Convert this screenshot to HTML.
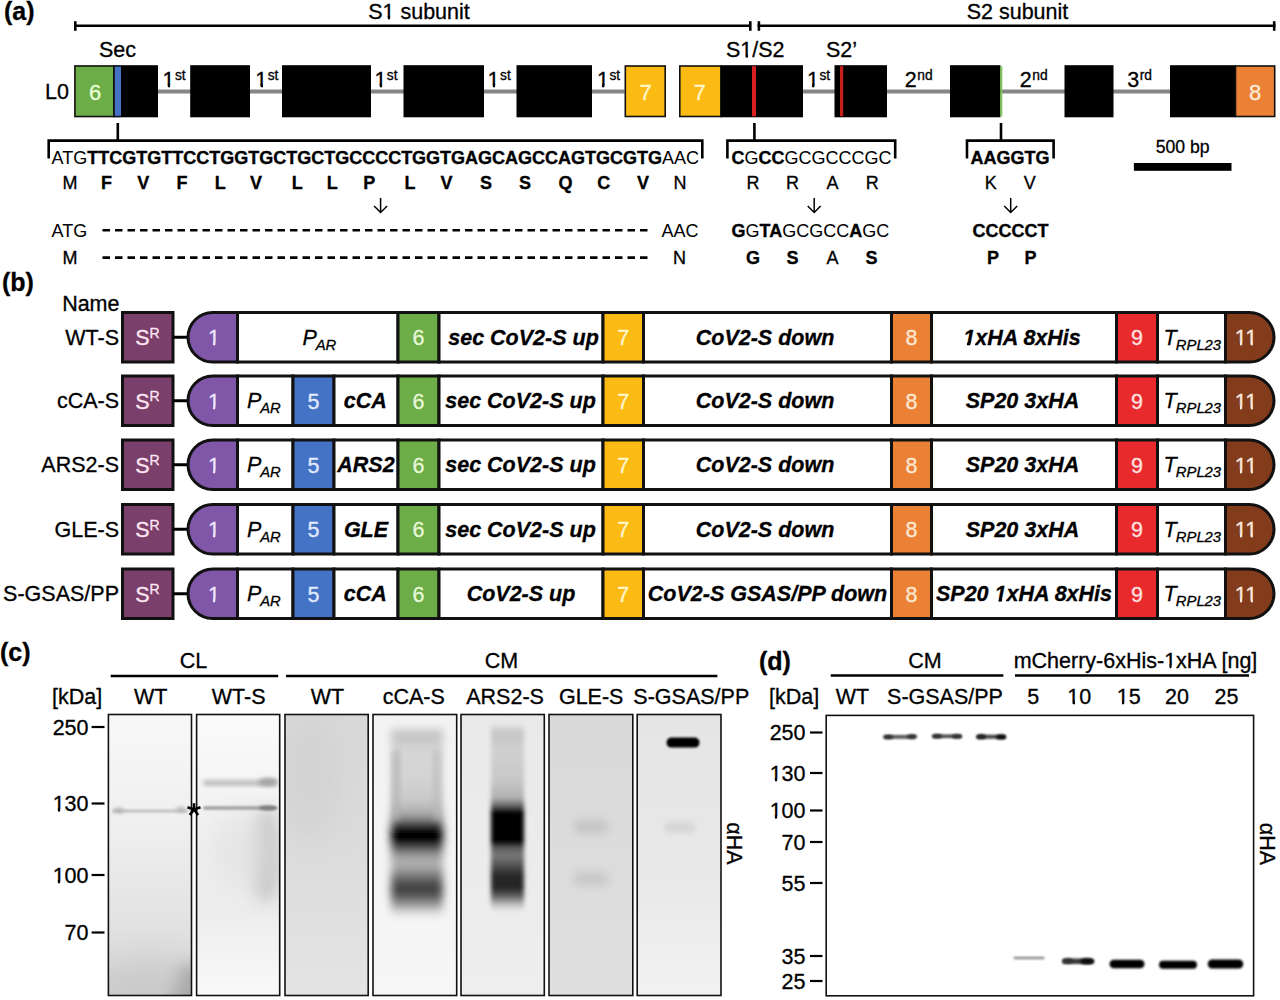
<!DOCTYPE html>
<html><head><meta charset="utf-8"><style>
html,body{margin:0;padding:0;background:#fff;width:1280px;height:1000px;overflow:hidden}
svg{display:block}
text{font-family:"Liberation Sans", sans-serif;stroke-width:0.3px}
</style></head><body>
<svg width="1280" height="1000" viewBox="0 0 1280 1000">
<defs>
<filter id="b1" x="-50%" y="-50%" width="200%" height="200%"><feGaussianBlur stdDeviation="1"/></filter>
<filter id="b2" x="-50%" y="-50%" width="200%" height="200%"><feGaussianBlur stdDeviation="2"/></filter>
<filter id="b3" x="-50%" y="-50%" width="200%" height="200%"><feGaussianBlur stdDeviation="3"/></filter>
<filter id="b4" x="-50%" y="-50%" width="200%" height="200%"><feGaussianBlur stdDeviation="4"/></filter>
<filter id="b5" x="-50%" y="-50%" width="200%" height="200%"><feGaussianBlur stdDeviation="5"/></filter>
<filter id="b8" x="-50%" y="-50%" width="200%" height="200%"><feGaussianBlur stdDeviation="8"/></filter>
<filter id="b12" x="-80%" y="-80%" width="260%" height="260%"><feGaussianBlur stdDeviation="12"/></filter>
<linearGradient id="g0" x1="0" y1="0" x2="0" y2="1"><stop offset="0" stop-color="#f8f8f8"/><stop offset="0.4" stop-color="#efefef"/><stop offset="0.75" stop-color="#e2e2e2"/><stop offset="1" stop-color="#d0d0d0"/></linearGradient><linearGradient id="g1" x1="0" y1="0" x2="0" y2="1"><stop offset="0" stop-color="#fbfbfb"/><stop offset="0.4" stop-color="#f1f1f1"/><stop offset="0.7" stop-color="#ededed"/><stop offset="1" stop-color="#f9f9f9"/></linearGradient><linearGradient id="g2" x1="0" y1="0" x2="0" y2="1"><stop offset="0" stop-color="#d8d8d8"/><stop offset="0.5" stop-color="#dcdcdc"/><stop offset="1" stop-color="#e4e4e4"/></linearGradient><linearGradient id="g3" x1="0" y1="0" x2="0" y2="1"><stop offset="0" stop-color="#f3f3f3"/><stop offset="1" stop-color="#f6f6f6"/></linearGradient><linearGradient id="g4" x1="0" y1="0" x2="0" y2="1"><stop offset="0" stop-color="#e9e9e9"/><stop offset="1" stop-color="#eeeeee"/></linearGradient><linearGradient id="g5" x1="0" y1="0" x2="0" y2="1"><stop offset="0" stop-color="#d9d9d9"/><stop offset="1" stop-color="#dfdfdf"/></linearGradient><linearGradient id="g6" x1="0" y1="0" x2="0" y2="1"><stop offset="0" stop-color="#e5e5e5"/><stop offset="0.6" stop-color="#e9e9e9"/><stop offset="1" stop-color="#f2f2f2"/></linearGradient><linearGradient id="p3" gradientUnits="userSpaceOnUse" x1="0" y1="726" x2="0" y2="918"><stop offset="0.0000" stop-color="#c4c4c4" stop-opacity="0"/><stop offset="0.0365" stop-color="#c4c4c4" stop-opacity="1"/><stop offset="0.0625" stop-color="#c0c0c0" stop-opacity="1"/><stop offset="0.1042" stop-color="#d4d4d4" stop-opacity="1"/><stop offset="0.2292" stop-color="#d6d6d6" stop-opacity="1"/><stop offset="0.3854" stop-color="#cacaca" stop-opacity="1"/><stop offset="0.4635" stop-color="#a8a8a8" stop-opacity="1"/><stop offset="0.5000" stop-color="#606060" stop-opacity="1"/><stop offset="0.5312" stop-color="#000" stop-opacity="1"/><stop offset="0.6094" stop-color="#000" stop-opacity="1"/><stop offset="0.6458" stop-color="#707070" stop-opacity="1"/><stop offset="0.6979" stop-color="#b4b4b4" stop-opacity="1"/><stop offset="0.7396" stop-color="#a8a8a8" stop-opacity="1"/><stop offset="0.7917" stop-color="#686868" stop-opacity="1"/><stop offset="0.8333" stop-color="#404040" stop-opacity="1"/><stop offset="0.8646" stop-color="#404040" stop-opacity="1"/><stop offset="0.9062" stop-color="#707070" stop-opacity="1"/><stop offset="0.9479" stop-color="#b8b8b8" stop-opacity="1"/><stop offset="1.0000" stop-color="#dcdcdc" stop-opacity="0"/></linearGradient><linearGradient id="p4" gradientUnits="userSpaceOnUse" x1="0" y1="724" x2="0" y2="912"><stop offset="0.0000" stop-color="#c8c8c8" stop-opacity="0"/><stop offset="0.0372" stop-color="#c8c8c8" stop-opacity="1"/><stop offset="0.0745" stop-color="#c8c8c8" stop-opacity="1"/><stop offset="0.1383" stop-color="#d0d0d0" stop-opacity="1"/><stop offset="0.2979" stop-color="#c8c8c8" stop-opacity="1"/><stop offset="0.3936" stop-color="#b0b0b0" stop-opacity="1"/><stop offset="0.4362" stop-color="#606060" stop-opacity="1"/><stop offset="0.4681" stop-color="#000" stop-opacity="1"/><stop offset="0.6277" stop-color="#000" stop-opacity="1"/><stop offset="0.6596" stop-color="#606060" stop-opacity="1"/><stop offset="0.7021" stop-color="#787878" stop-opacity="1"/><stop offset="0.7553" stop-color="#505050" stop-opacity="1"/><stop offset="0.8085" stop-color="#262626" stop-opacity="1"/><stop offset="0.8723" stop-color="#262626" stop-opacity="1"/><stop offset="0.9149" stop-color="#606060" stop-opacity="1"/><stop offset="0.9574" stop-color="#b8b8b8" stop-opacity="1"/><stop offset="1.0000" stop-color="#d0d0d0" stop-opacity="0"/></linearGradient></defs>
<text x="4" y="19.6" font-size="25" font-weight="bold" text-anchor="start" fill="#000" stroke="#000" >(a)</text>
<line x1="74" y1="25.7" x2="751" y2="25.7" stroke="#000" stroke-width="2.5" />
<line x1="75.3" y1="21.2" x2="75.3" y2="30.8" stroke="#000" stroke-width="2.6" />
<line x1="750.3" y1="21.2" x2="750.3" y2="30.8" stroke="#000" stroke-width="2.6" />
<line x1="757.6" y1="25.7" x2="1275.5" y2="25.7" stroke="#000" stroke-width="2.5" />
<line x1="758.9" y1="21.2" x2="758.9" y2="30.8" stroke="#000" stroke-width="2.6" />
<line x1="1274.2" y1="21.2" x2="1274.2" y2="30.8" stroke="#000" stroke-width="2.6" />
<text x="419" y="18.8" font-size="21.5" text-anchor="middle" fill="#000" stroke="#000" >S1 subunit</text>
<text x="1017.5" y="18.8" font-size="21.5" text-anchor="middle" fill="#000" stroke="#000" >S2 subunit</text>
<text x="99" y="57.3" font-size="21.5" text-anchor="start" fill="#000" stroke="#000" >Sec</text>
<text x="726" y="57.3" font-size="21.5" text-anchor="start" fill="#000" stroke="#000" >S1/S2</text>
<text x="826" y="57.3" font-size="21.5" text-anchor="start" fill="#000" stroke="#000" >S2’</text>
<text x="45" y="99" font-size="21.5" text-anchor="start" fill="#000" stroke="#000" >L0</text>
<line x1="158" y1="91.6" x2="624.5" y2="91.6" stroke="#858585" stroke-width="4" />
<line x1="803" y1="91.6" x2="1170" y2="91.6" stroke="#858585" stroke-width="4" />
<rect x="74.9" y="65.95" width="39.0" height="50.599999999999994" fill="#6cad47" stroke="#111" stroke-width="1.6"/>
<rect x="114.5" y="65.2" width="6.5" height="52.099999999999994" fill="#4472c4"/>
<rect x="113.2" y="65.2" width="1.5999999999999943" height="52.099999999999994" fill="#111"/>
<rect x="114.5" y="65.2" width="6.5" height="1.5" fill="#111"/>
<rect x="114.5" y="115.8" width="6.5" height="1.5" fill="#111"/>
<rect x="121" y="65.2" width="37" height="52.099999999999994" fill="#000"/>
<text x="95" y="99.7" font-size="22" text-anchor="middle" fill="#eaffd6" stroke="#eaffd6" >6</text>
<rect x="190.2" y="65.2" width="59.80000000000001" height="52.099999999999994" fill="#000"/>
<rect x="282" y="65.2" width="89" height="52.099999999999994" fill="#000"/>
<rect x="403.5" y="65.2" width="80.5" height="52.099999999999994" fill="#000"/>
<rect x="516.5" y="65.2" width="75.5" height="52.099999999999994" fill="#000"/>
<rect x="625.3" y="66.0" width="39.90000000000009" height="50.5" fill="#fbbb14" stroke="#111" stroke-width="1.6"/>
<text x="645.5" y="99.7" font-size="22" text-anchor="middle" fill="#fff6cc" stroke="#fff6cc" >7</text>
<rect x="679.8" y="66.0" width="41.200000000000045" height="50.5" fill="#fbbb14" stroke="#111" stroke-width="1.6"/>
<text x="699.5" y="99.7" font-size="22" text-anchor="middle" fill="#fff6cc" stroke="#fff6cc" >7</text>
<rect x="720.5" y="65.2" width="82.5" height="52.099999999999994" fill="#000"/>
<rect x="752" y="66.2" width="4" height="50.099999999999994" fill="#d81e1e"/>
<rect x="834.5" y="65.2" width="52.5" height="52.099999999999994" fill="#000"/>
<rect x="840" y="66.2" width="3.2000000000000455" height="50.099999999999994" fill="#c81e1e"/>
<rect x="950" y="65.2" width="50.5" height="52.099999999999994" fill="#000"/>
<rect x="1000.3" y="66.2" width="2.0" height="50.099999999999994" fill="#7ec45a"/>
<rect x="1064.5" y="65.2" width="49.0" height="52.099999999999994" fill="#000"/>
<rect x="1170" y="65.2" width="66" height="52.099999999999994" fill="#000"/>
<rect x="1235.5" y="66.0" width="39.200000000000045" height="50.5" fill="#ea8135" stroke="#111" stroke-width="1.6"/>
<text x="1255" y="99.7" font-size="22" text-anchor="middle" fill="#fdebd6" stroke="#fdebd6" >8</text>
<text x="162.5" y="86.6" font-size="21.5" stroke="#000">1<tspan font-size="13.8" dy="-6.8" dx="0.5">st</tspan></text>
<text x="255.2" y="86.6" font-size="21.5" stroke="#000">1<tspan font-size="13.8" dy="-6.8" dx="0.5">st</tspan></text>
<text x="374.4" y="86.6" font-size="21.5" stroke="#000">1<tspan font-size="13.8" dy="-6.8" dx="0.5">st</tspan></text>
<text x="487.6" y="86.6" font-size="21.5" stroke="#000">1<tspan font-size="13.8" dy="-6.8" dx="0.5">st</tspan></text>
<text x="597" y="86.6" font-size="21.5" stroke="#000">1<tspan font-size="13.8" dy="-6.8" dx="0.5">st</tspan></text>
<text x="807" y="86.6" font-size="21.5" stroke="#000">1<tspan font-size="13.8" dy="-6.8" dx="0.5">st</tspan></text>
<text x="904.8" y="86.6" font-size="21.5" stroke="#000">2<tspan font-size="13.8" dy="-6.8" dx="0.5">nd</tspan></text>
<text x="1019.8" y="86.6" font-size="21.5" stroke="#000">2<tspan font-size="13.8" dy="-6.8" dx="0.5">nd</tspan></text>
<text x="1127.2" y="86.6" font-size="21.5" stroke="#000">3<tspan font-size="13.8" dy="-6.8" dx="0.5">rd</tspan></text>
<path d="M48.7 158.5 V140.6 H702.3 V158.5" fill="none" stroke="#000" stroke-width="2.6" stroke-linejoin="miter"/>
<line x1="117.8" y1="123" x2="117.8" y2="140.6" stroke="#000" stroke-width="2.6" />
<path d="M727.4 158.5 V140.6 H895.2 V158.5" fill="none" stroke="#000" stroke-width="2.6" stroke-linejoin="miter"/>
<line x1="754.4" y1="123" x2="754.4" y2="140.6" stroke="#000" stroke-width="2.6" />
<path d="M967 158.5 V140.6 H1053.6 V158.5" fill="none" stroke="#000" stroke-width="2.6" stroke-linejoin="miter"/>
<line x1="1001" y1="123" x2="1001" y2="140.6" stroke="#000" stroke-width="2.6" />
<text x="51.5" y="163.6" font-size="18" stroke="#000"><tspan font-weight="normal" stroke-width="0">ATG</tspan><tspan font-weight="bold" stroke-width="0.35">TTCGTGTTCCTGGTGCTGCTGCCCCTGGTGAGCAGCCAGTGCGTG</tspan><tspan font-weight="normal" stroke-width="0">AAC</tspan></text>
<text x="69.9" y="188.8" font-size="18" text-anchor="middle" fill="#000" stroke="#000"  stroke-width="0">M</text>
<text x="106.6" y="188.8" font-size="18" font-weight="bold" text-anchor="middle" fill="#000" stroke="#000" >F</text>
<text x="143.3" y="188.8" font-size="18" font-weight="bold" text-anchor="middle" fill="#000" stroke="#000" >V</text>
<text x="182" y="188.8" font-size="18" font-weight="bold" text-anchor="middle" fill="#000" stroke="#000" >F</text>
<text x="220.3" y="188.8" font-size="18" font-weight="bold" text-anchor="middle" fill="#000" stroke="#000" >L</text>
<text x="256" y="188.8" font-size="18" font-weight="bold" text-anchor="middle" fill="#000" stroke="#000" >V</text>
<text x="297.3" y="188.8" font-size="18" font-weight="bold" text-anchor="middle" fill="#000" stroke="#000" >L</text>
<text x="332.3" y="188.8" font-size="18" font-weight="bold" text-anchor="middle" fill="#000" stroke="#000" >L</text>
<text x="369.3" y="188.8" font-size="18" font-weight="bold" text-anchor="middle" fill="#000" stroke="#000" >P</text>
<text x="410" y="188.8" font-size="18" font-weight="bold" text-anchor="middle" fill="#000" stroke="#000" >L</text>
<text x="446.4" y="188.8" font-size="18" font-weight="bold" text-anchor="middle" fill="#000" stroke="#000" >V</text>
<text x="486" y="188.8" font-size="18" font-weight="bold" text-anchor="middle" fill="#000" stroke="#000" >S</text>
<text x="525" y="188.8" font-size="18" font-weight="bold" text-anchor="middle" fill="#000" stroke="#000" >S</text>
<text x="565.6" y="188.8" font-size="18" font-weight="bold" text-anchor="middle" fill="#000" stroke="#000" >Q</text>
<text x="603.7" y="188.8" font-size="18" font-weight="bold" text-anchor="middle" fill="#000" stroke="#000" >C</text>
<text x="643" y="188.8" font-size="18" font-weight="bold" text-anchor="middle" fill="#000" stroke="#000" >V</text>
<text x="680" y="188.8" font-size="18" text-anchor="middle" fill="#000" stroke="#000"  stroke-width="0">N</text>
<text x="51.5" y="237" font-size="18" stroke="#000"><tspan font-weight="normal" stroke-width="0">ATG</tspan></text>
<text x="661.5" y="237" font-size="18" stroke="#000"><tspan font-weight="normal" stroke-width="0">AAC</tspan></text>
<text x="70" y="264" font-size="18" text-anchor="middle" fill="#000" stroke="#000"  stroke-width="0">M</text>
<text x="679.5" y="264" font-size="18" text-anchor="middle" fill="#000" stroke="#000"  stroke-width="0">N</text>
<line x1="102.5" y1="230.3" x2="650" y2="230.3" stroke="#000" stroke-width="2.6" stroke-dasharray="7.5 5"/>
<line x1="102.5" y1="257.6" x2="650" y2="257.6" stroke="#000" stroke-width="2.6" stroke-dasharray="7.5 5"/>
<path d="M380.6 198 V212.5 M374.1 206.0 L380.6 212.5 L387.1 206.0" fill="none" stroke="#000" stroke-width="1.5"/>
<path d="M814.2 198 V212.5 M807.7 206.0 L814.2 212.5 L820.7 206.0" fill="none" stroke="#000" stroke-width="1.5"/>
<path d="M1010.7 198 V212.5 M1004.2 206.0 L1010.7 212.5 L1017.2 206.0" fill="none" stroke="#000" stroke-width="1.5"/>
<text x="731.5" y="163.6" font-size="18" stroke="#000"><tspan font-weight="bold" stroke-width="0.35">C</tspan><tspan font-weight="normal" stroke-width="0">G</tspan><tspan font-weight="bold" stroke-width="0.35">CC</tspan><tspan font-weight="normal" stroke-width="0">GCGCCCGC</tspan></text>
<text x="753" y="188.8" font-size="18" text-anchor="middle" fill="#000" stroke="#000"  stroke-width="0">R</text>
<text x="792.5" y="188.8" font-size="18" text-anchor="middle" fill="#000" stroke="#000"  stroke-width="0">R</text>
<text x="832.5" y="188.8" font-size="18" text-anchor="middle" fill="#000" stroke="#000"  stroke-width="0">A</text>
<text x="872.2" y="188.8" font-size="18" text-anchor="middle" fill="#000" stroke="#000"  stroke-width="0">R</text>
<text x="731.5" y="237" font-size="18" stroke="#000"><tspan font-weight="bold" stroke-width="0.35">G</tspan><tspan font-weight="normal" stroke-width="0">G</tspan><tspan font-weight="bold" stroke-width="0.35">TA</tspan><tspan font-weight="normal" stroke-width="0">GCGCC</tspan><tspan font-weight="bold" stroke-width="0.35">A</tspan><tspan font-weight="normal" stroke-width="0">GC</tspan></text>
<text x="753" y="264" font-size="18" font-weight="bold" text-anchor="middle" fill="#000" stroke="#000" >G</text>
<text x="792.5" y="264" font-size="18" font-weight="bold" text-anchor="middle" fill="#000" stroke="#000" >S</text>
<text x="832.5" y="264" font-size="18" text-anchor="middle" fill="#000" stroke="#000"  stroke-width="0">A</text>
<text x="871.5" y="264" font-size="18" font-weight="bold" text-anchor="middle" fill="#000" stroke="#000" >S</text>
<text x="970.5" y="163.6" font-size="18" stroke="#000"><tspan font-weight="bold" stroke-width="0.35">AAGGTG</tspan></text>
<text x="990.7" y="188.8" font-size="18" text-anchor="middle" fill="#000" stroke="#000"  stroke-width="0">K</text>
<text x="1029.8" y="188.8" font-size="18" text-anchor="middle" fill="#000" stroke="#000"  stroke-width="0">V</text>
<text x="972.5" y="237" font-size="18" stroke="#000"><tspan font-weight="bold" stroke-width="0.35">CCCCCT</tspan></text>
<text x="993" y="264" font-size="18" font-weight="bold" text-anchor="middle" fill="#000" stroke="#000" >P</text>
<text x="1030.5" y="264" font-size="18" font-weight="bold" text-anchor="middle" fill="#000" stroke="#000" >P</text>
<text x="1182.7" y="152.7" font-size="17.6" text-anchor="middle" fill="#000" stroke="#000" >500 bp</text>
<rect x="1133.9" y="163" width="97.59999999999991" height="7.800000000000011" fill="#000"/>
<text x="2" y="290.8" font-size="25" font-weight="bold" text-anchor="start" fill="#000" stroke="#000" >(b)</text>
<text x="119.5" y="311" font-size="21.5" text-anchor="end" fill="#000" stroke="#000" >Name</text>
<text x="119" y="344.75" font-size="21.5" text-anchor="end" fill="#000" stroke="#000" >WT-S</text>
<rect x="122.5" y="312.5" width="50.5" height="49.5" fill="#7b3f6c" stroke="#111" stroke-width="3"/>
<text x="147.5" y="345.05" font-size="21.5" fill="#fce6f2" stroke="#fce6f2" text-anchor="middle">S<tspan font-size="14" dy="-7.5">R</tspan></text>
<line x1="173" y1="337.25" x2="188" y2="337.25" stroke="#000" stroke-width="3" />
<path d="M237.5 312.5 H212.75 A24.75 24.75 0 0 0 212.75 362.0 H237.5 Z" fill="#7f56a8" stroke="#111" stroke-width="3"/>
<path d="M1225.5 312.5 H1249.25 A24.75 24.75 0 0 1 1249.25 362.0 H1225.5 Z" fill="#833c1b" stroke="#111" stroke-width="3"/>
<text x="214" y="345.05" font-size="21.5" text-anchor="middle" fill="#efe6ff" stroke="#efe6ff" stroke-width="0.1">1</text>
<text x="1246" y="345.05" font-size="21.5" text-anchor="middle" fill="#fbe8dc" stroke="#fbe8dc" stroke-width="0.1">11</text>
<rect x="237.5" y="312.5" width="160.5" height="49.5" fill="#fff" stroke="#111" stroke-width="3"/>
<rect x="398" y="312.5" width="41" height="49.5" fill="#6cad47" stroke="#111" stroke-width="3"/>
<rect x="439" y="312.5" width="164" height="49.5" fill="#fff" stroke="#111" stroke-width="3"/>
<rect x="603" y="312.5" width="40.5" height="49.5" fill="#fbbb14" stroke="#111" stroke-width="3"/>
<rect x="643.5" y="312.5" width="248.0" height="49.5" fill="#fff" stroke="#111" stroke-width="3"/>
<rect x="891.5" y="312.5" width="40.0" height="49.5" fill="#ea8135" stroke="#111" stroke-width="3"/>
<rect x="931.5" y="312.5" width="185.0" height="49.5" fill="#fff" stroke="#111" stroke-width="3"/>
<rect x="1116.5" y="312.5" width="41.0" height="49.5" fill="#e92a2c" stroke="#111" stroke-width="3"/>
<rect x="1157.5" y="312.5" width="68.0" height="49.5" fill="#fff" stroke="#111" stroke-width="3"/>
<text x="302.5" y="344.75" font-size="21.5" font-style="italic" stroke="#000">P<tspan font-size="14.8" dy="4.8" dx="-1.2">AR</tspan></text>
<text x="418.5" y="345.05" font-size="21.5" text-anchor="middle" fill="#e6f8d8" stroke="#e6f8d8" stroke-width="0.1">6</text>
<text x="523.5" y="344.85" font-size="21.5" font-weight="bold" font-style="italic" text-anchor="middle" fill="#000" stroke="#000" >sec CoV2-S up</text>
<text x="623.25" y="345.05" font-size="21.5" text-anchor="middle" fill="#fff6cc" stroke="#fff6cc" stroke-width="0.1">7</text>
<text x="765.0" y="344.85" font-size="21.5" font-weight="bold" font-style="italic" text-anchor="middle" fill="#000" stroke="#000" >CoV2-S down</text>
<text x="911.5" y="345.05" font-size="21.5" text-anchor="middle" fill="#fde8d4" stroke="#fde8d4" stroke-width="0.1">8</text>
<text x="1022.0" y="344.85" font-size="21.5" font-weight="bold" font-style="italic" text-anchor="middle" fill="#000" stroke="#000" >1xHA 8xHis</text>
<text x="1137.0" y="345.05" font-size="21.5" text-anchor="middle" fill="#ffe0e0" stroke="#ffe0e0" stroke-width="0.1">9</text>
<text x="1163.5" y="344.75" font-size="21.5" font-style="italic" stroke="#000">T<tspan font-size="14.8" dy="4.8" dx="-0.8">RPL23</tspan></text>
<text x="119" y="408.25" font-size="21.5" text-anchor="end" fill="#000" stroke="#000" >cCA-S</text>
<rect x="122.5" y="376.0" width="50.5" height="49.5" fill="#7b3f6c" stroke="#111" stroke-width="3"/>
<text x="147.5" y="408.55" font-size="21.5" fill="#fce6f2" stroke="#fce6f2" text-anchor="middle">S<tspan font-size="14" dy="-7.5">R</tspan></text>
<line x1="173" y1="400.75" x2="188" y2="400.75" stroke="#000" stroke-width="3" />
<path d="M237.5 376.0 H212.75 A24.75 24.75 0 0 0 212.75 425.5 H237.5 Z" fill="#7f56a8" stroke="#111" stroke-width="3"/>
<path d="M1225.5 376.0 H1249.25 A24.75 24.75 0 0 1 1249.25 425.5 H1225.5 Z" fill="#833c1b" stroke="#111" stroke-width="3"/>
<text x="214" y="408.55" font-size="21.5" text-anchor="middle" fill="#efe6ff" stroke="#efe6ff" stroke-width="0.1">1</text>
<text x="1246" y="408.55" font-size="21.5" text-anchor="middle" fill="#fbe8dc" stroke="#fbe8dc" stroke-width="0.1">11</text>
<rect x="237.5" y="376.0" width="55.5" height="49.5" fill="#fff" stroke="#111" stroke-width="3"/>
<rect x="293" y="376.0" width="41" height="49.5" fill="#4472c4" stroke="#111" stroke-width="3"/>
<rect x="334" y="376.0" width="64" height="49.5" fill="#fff" stroke="#111" stroke-width="3"/>
<rect x="398" y="376.0" width="41" height="49.5" fill="#6cad47" stroke="#111" stroke-width="3"/>
<rect x="439" y="376.0" width="164" height="49.5" fill="#fff" stroke="#111" stroke-width="3"/>
<rect x="603" y="376.0" width="40.5" height="49.5" fill="#fbbb14" stroke="#111" stroke-width="3"/>
<rect x="643.5" y="376.0" width="248.0" height="49.5" fill="#fff" stroke="#111" stroke-width="3"/>
<rect x="891.5" y="376.0" width="40.0" height="49.5" fill="#ea8135" stroke="#111" stroke-width="3"/>
<rect x="931.5" y="376.0" width="185.0" height="49.5" fill="#fff" stroke="#111" stroke-width="3"/>
<rect x="1116.5" y="376.0" width="41.0" height="49.5" fill="#e92a2c" stroke="#111" stroke-width="3"/>
<rect x="1157.5" y="376.0" width="68.0" height="49.5" fill="#fff" stroke="#111" stroke-width="3"/>
<text x="247" y="408.25" font-size="21.5" font-style="italic" stroke="#000">P<tspan font-size="14.8" dy="4.8" dx="-1.2">AR</tspan></text>
<text x="313.5" y="408.55" font-size="21.5" text-anchor="middle" fill="#e0ecff" stroke="#e0ecff" stroke-width="0.1">5</text>
<text x="365.2" y="408.35" font-size="21.5" font-weight="bold" font-style="italic" text-anchor="middle" fill="#000" stroke="#000" >cCA</text>
<text x="418.5" y="408.55" font-size="21.5" text-anchor="middle" fill="#e6f8d8" stroke="#e6f8d8" stroke-width="0.1">6</text>
<text x="520.5" y="408.35" font-size="21.5" font-weight="bold" font-style="italic" text-anchor="middle" fill="#000" stroke="#000" >sec CoV2-S up</text>
<text x="623.25" y="408.55" font-size="21.5" text-anchor="middle" fill="#fff6cc" stroke="#fff6cc" stroke-width="0.1">7</text>
<text x="765.0" y="408.35" font-size="21.5" font-weight="bold" font-style="italic" text-anchor="middle" fill="#000" stroke="#000" >CoV2-S down</text>
<text x="911.5" y="408.55" font-size="21.5" text-anchor="middle" fill="#fde8d4" stroke="#fde8d4" stroke-width="0.1">8</text>
<text x="1022.5" y="408.35" font-size="21.5" font-weight="bold" font-style="italic" text-anchor="middle" fill="#000" stroke="#000" >SP20 3xHA</text>
<text x="1137.0" y="408.55" font-size="21.5" text-anchor="middle" fill="#ffe0e0" stroke="#ffe0e0" stroke-width="0.1">9</text>
<text x="1163.5" y="408.25" font-size="21.5" font-style="italic" stroke="#000">T<tspan font-size="14.8" dy="4.8" dx="-0.8">RPL23</tspan></text>
<text x="119" y="472.25" font-size="21.5" text-anchor="end" fill="#000" stroke="#000" >ARS2-S</text>
<rect x="122.5" y="440.0" width="50.5" height="49.5" fill="#7b3f6c" stroke="#111" stroke-width="3"/>
<text x="147.5" y="472.55" font-size="21.5" fill="#fce6f2" stroke="#fce6f2" text-anchor="middle">S<tspan font-size="14" dy="-7.5">R</tspan></text>
<line x1="173" y1="464.75" x2="188" y2="464.75" stroke="#000" stroke-width="3" />
<path d="M237.5 440.0 H212.75 A24.75 24.75 0 0 0 212.75 489.5 H237.5 Z" fill="#7f56a8" stroke="#111" stroke-width="3"/>
<path d="M1225.5 440.0 H1249.25 A24.75 24.75 0 0 1 1249.25 489.5 H1225.5 Z" fill="#833c1b" stroke="#111" stroke-width="3"/>
<text x="214" y="472.55" font-size="21.5" text-anchor="middle" fill="#efe6ff" stroke="#efe6ff" stroke-width="0.1">1</text>
<text x="1246" y="472.55" font-size="21.5" text-anchor="middle" fill="#fbe8dc" stroke="#fbe8dc" stroke-width="0.1">11</text>
<rect x="237.5" y="440.0" width="55.5" height="49.5" fill="#fff" stroke="#111" stroke-width="3"/>
<rect x="293" y="440.0" width="41" height="49.5" fill="#4472c4" stroke="#111" stroke-width="3"/>
<rect x="334" y="440.0" width="64" height="49.5" fill="#fff" stroke="#111" stroke-width="3"/>
<rect x="398" y="440.0" width="41" height="49.5" fill="#6cad47" stroke="#111" stroke-width="3"/>
<rect x="439" y="440.0" width="164" height="49.5" fill="#fff" stroke="#111" stroke-width="3"/>
<rect x="603" y="440.0" width="40.5" height="49.5" fill="#fbbb14" stroke="#111" stroke-width="3"/>
<rect x="643.5" y="440.0" width="248.0" height="49.5" fill="#fff" stroke="#111" stroke-width="3"/>
<rect x="891.5" y="440.0" width="40.0" height="49.5" fill="#ea8135" stroke="#111" stroke-width="3"/>
<rect x="931.5" y="440.0" width="185.0" height="49.5" fill="#fff" stroke="#111" stroke-width="3"/>
<rect x="1116.5" y="440.0" width="41.0" height="49.5" fill="#e92a2c" stroke="#111" stroke-width="3"/>
<rect x="1157.5" y="440.0" width="68.0" height="49.5" fill="#fff" stroke="#111" stroke-width="3"/>
<text x="247" y="472.25" font-size="21.5" font-style="italic" stroke="#000">P<tspan font-size="14.8" dy="4.8" dx="-1.2">AR</tspan></text>
<text x="313.5" y="472.55" font-size="21.5" text-anchor="middle" fill="#e0ecff" stroke="#e0ecff" stroke-width="0.1">5</text>
<text x="366.0" y="472.35" font-size="21.5" font-weight="bold" font-style="italic" text-anchor="middle" fill="#000" stroke="#000" >ARS2</text>
<text x="418.5" y="472.55" font-size="21.5" text-anchor="middle" fill="#e6f8d8" stroke="#e6f8d8" stroke-width="0.1">6</text>
<text x="520.5" y="472.35" font-size="21.5" font-weight="bold" font-style="italic" text-anchor="middle" fill="#000" stroke="#000" >sec CoV2-S up</text>
<text x="623.25" y="472.55" font-size="21.5" text-anchor="middle" fill="#fff6cc" stroke="#fff6cc" stroke-width="0.1">7</text>
<text x="765.0" y="472.35" font-size="21.5" font-weight="bold" font-style="italic" text-anchor="middle" fill="#000" stroke="#000" >CoV2-S down</text>
<text x="911.5" y="472.55" font-size="21.5" text-anchor="middle" fill="#fde8d4" stroke="#fde8d4" stroke-width="0.1">8</text>
<text x="1022.5" y="472.35" font-size="21.5" font-weight="bold" font-style="italic" text-anchor="middle" fill="#000" stroke="#000" >SP20 3xHA</text>
<text x="1137.0" y="472.55" font-size="21.5" text-anchor="middle" fill="#ffe0e0" stroke="#ffe0e0" stroke-width="0.1">9</text>
<text x="1163.5" y="472.25" font-size="21.5" font-style="italic" stroke="#000">T<tspan font-size="14.8" dy="4.8" dx="-0.8">RPL23</tspan></text>
<text x="119" y="536.75" font-size="21.5" text-anchor="end" fill="#000" stroke="#000" >GLE-S</text>
<rect x="122.5" y="504.5" width="50.5" height="49.5" fill="#7b3f6c" stroke="#111" stroke-width="3"/>
<text x="147.5" y="537.05" font-size="21.5" fill="#fce6f2" stroke="#fce6f2" text-anchor="middle">S<tspan font-size="14" dy="-7.5">R</tspan></text>
<line x1="173" y1="529.25" x2="188" y2="529.25" stroke="#000" stroke-width="3" />
<path d="M237.5 504.5 H212.75 A24.75 24.75 0 0 0 212.75 554.0 H237.5 Z" fill="#7f56a8" stroke="#111" stroke-width="3"/>
<path d="M1225.5 504.5 H1249.25 A24.75 24.75 0 0 1 1249.25 554.0 H1225.5 Z" fill="#833c1b" stroke="#111" stroke-width="3"/>
<text x="214" y="537.05" font-size="21.5" text-anchor="middle" fill="#efe6ff" stroke="#efe6ff" stroke-width="0.1">1</text>
<text x="1246" y="537.05" font-size="21.5" text-anchor="middle" fill="#fbe8dc" stroke="#fbe8dc" stroke-width="0.1">11</text>
<rect x="237.5" y="504.5" width="55.5" height="49.5" fill="#fff" stroke="#111" stroke-width="3"/>
<rect x="293" y="504.5" width="41" height="49.5" fill="#4472c4" stroke="#111" stroke-width="3"/>
<rect x="334" y="504.5" width="64" height="49.5" fill="#fff" stroke="#111" stroke-width="3"/>
<rect x="398" y="504.5" width="41" height="49.5" fill="#6cad47" stroke="#111" stroke-width="3"/>
<rect x="439" y="504.5" width="164" height="49.5" fill="#fff" stroke="#111" stroke-width="3"/>
<rect x="603" y="504.5" width="40.5" height="49.5" fill="#fbbb14" stroke="#111" stroke-width="3"/>
<rect x="643.5" y="504.5" width="248.0" height="49.5" fill="#fff" stroke="#111" stroke-width="3"/>
<rect x="891.5" y="504.5" width="40.0" height="49.5" fill="#ea8135" stroke="#111" stroke-width="3"/>
<rect x="931.5" y="504.5" width="185.0" height="49.5" fill="#fff" stroke="#111" stroke-width="3"/>
<rect x="1116.5" y="504.5" width="41.0" height="49.5" fill="#e92a2c" stroke="#111" stroke-width="3"/>
<rect x="1157.5" y="504.5" width="68.0" height="49.5" fill="#fff" stroke="#111" stroke-width="3"/>
<text x="247" y="536.75" font-size="21.5" font-style="italic" stroke="#000">P<tspan font-size="14.8" dy="4.8" dx="-1.2">AR</tspan></text>
<text x="313.5" y="537.05" font-size="21.5" text-anchor="middle" fill="#e0ecff" stroke="#e0ecff" stroke-width="0.1">5</text>
<text x="366.0" y="536.85" font-size="21.5" font-weight="bold" font-style="italic" text-anchor="middle" fill="#000" stroke="#000" >GLE</text>
<text x="418.5" y="537.05" font-size="21.5" text-anchor="middle" fill="#e6f8d8" stroke="#e6f8d8" stroke-width="0.1">6</text>
<text x="520.5" y="536.85" font-size="21.5" font-weight="bold" font-style="italic" text-anchor="middle" fill="#000" stroke="#000" >sec CoV2-S up</text>
<text x="623.25" y="537.05" font-size="21.5" text-anchor="middle" fill="#fff6cc" stroke="#fff6cc" stroke-width="0.1">7</text>
<text x="765.0" y="536.85" font-size="21.5" font-weight="bold" font-style="italic" text-anchor="middle" fill="#000" stroke="#000" >CoV2-S down</text>
<text x="911.5" y="537.05" font-size="21.5" text-anchor="middle" fill="#fde8d4" stroke="#fde8d4" stroke-width="0.1">8</text>
<text x="1022.5" y="536.85" font-size="21.5" font-weight="bold" font-style="italic" text-anchor="middle" fill="#000" stroke="#000" >SP20 3xHA</text>
<text x="1137.0" y="537.05" font-size="21.5" text-anchor="middle" fill="#ffe0e0" stroke="#ffe0e0" stroke-width="0.1">9</text>
<text x="1163.5" y="536.75" font-size="21.5" font-style="italic" stroke="#000">T<tspan font-size="14.8" dy="4.8" dx="-0.8">RPL23</tspan></text>
<text x="119" y="601.25" font-size="21.5" text-anchor="end" fill="#000" stroke="#000" >S-GSAS/PP</text>
<rect x="122.5" y="569.0" width="50.5" height="49.5" fill="#7b3f6c" stroke="#111" stroke-width="3"/>
<text x="147.5" y="601.55" font-size="21.5" fill="#fce6f2" stroke="#fce6f2" text-anchor="middle">S<tspan font-size="14" dy="-7.5">R</tspan></text>
<line x1="173" y1="593.75" x2="188" y2="593.75" stroke="#000" stroke-width="3" />
<path d="M237.5 569.0 H212.75 A24.75 24.75 0 0 0 212.75 618.5 H237.5 Z" fill="#7f56a8" stroke="#111" stroke-width="3"/>
<path d="M1225.5 569.0 H1249.25 A24.75 24.75 0 0 1 1249.25 618.5 H1225.5 Z" fill="#833c1b" stroke="#111" stroke-width="3"/>
<text x="214" y="601.55" font-size="21.5" text-anchor="middle" fill="#efe6ff" stroke="#efe6ff" stroke-width="0.1">1</text>
<text x="1246" y="601.55" font-size="21.5" text-anchor="middle" fill="#fbe8dc" stroke="#fbe8dc" stroke-width="0.1">11</text>
<rect x="237.5" y="569.0" width="55.5" height="49.5" fill="#fff" stroke="#111" stroke-width="3"/>
<rect x="293" y="569.0" width="41" height="49.5" fill="#4472c4" stroke="#111" stroke-width="3"/>
<rect x="334" y="569.0" width="64" height="49.5" fill="#fff" stroke="#111" stroke-width="3"/>
<rect x="398" y="569.0" width="41" height="49.5" fill="#6cad47" stroke="#111" stroke-width="3"/>
<rect x="439" y="569.0" width="164" height="49.5" fill="#fff" stroke="#111" stroke-width="3"/>
<rect x="603" y="569.0" width="40.5" height="49.5" fill="#fbbb14" stroke="#111" stroke-width="3"/>
<rect x="643.5" y="569.0" width="248.0" height="49.5" fill="#fff" stroke="#111" stroke-width="3"/>
<rect x="891.5" y="569.0" width="40.0" height="49.5" fill="#ea8135" stroke="#111" stroke-width="3"/>
<rect x="931.5" y="569.0" width="185.0" height="49.5" fill="#fff" stroke="#111" stroke-width="3"/>
<rect x="1116.5" y="569.0" width="41.0" height="49.5" fill="#e92a2c" stroke="#111" stroke-width="3"/>
<rect x="1157.5" y="569.0" width="68.0" height="49.5" fill="#fff" stroke="#111" stroke-width="3"/>
<text x="247" y="601.25" font-size="21.5" font-style="italic" stroke="#000">P<tspan font-size="14.8" dy="4.8" dx="-1.2">AR</tspan></text>
<text x="313.5" y="601.55" font-size="21.5" text-anchor="middle" fill="#e0ecff" stroke="#e0ecff" stroke-width="0.1">5</text>
<text x="365.2" y="601.35" font-size="21.5" font-weight="bold" font-style="italic" text-anchor="middle" fill="#000" stroke="#000" >cCA</text>
<text x="418.5" y="601.55" font-size="21.5" text-anchor="middle" fill="#e6f8d8" stroke="#e6f8d8" stroke-width="0.1">6</text>
<text x="521.0" y="601.35" font-size="21.5" font-weight="bold" font-style="italic" text-anchor="middle" fill="#000" stroke="#000" >CoV2-S up</text>
<text x="623.25" y="601.55" font-size="21.5" text-anchor="middle" fill="#fff6cc" stroke="#fff6cc" stroke-width="0.1">7</text>
<text x="767.5" y="601.35" font-size="21.5" font-weight="bold" font-style="italic" text-anchor="middle" fill="#000" stroke="#000" >CoV2-S GSAS/PP down</text>
<text x="911.5" y="601.55" font-size="21.5" text-anchor="middle" fill="#fde8d4" stroke="#fde8d4" stroke-width="0.1">8</text>
<text x="1024.0" y="601.35" font-size="21.5" font-weight="bold" font-style="italic" text-anchor="middle" fill="#000" stroke="#000" >SP20 1xHA 8xHis</text>
<text x="1137.0" y="601.55" font-size="21.5" text-anchor="middle" fill="#ffe0e0" stroke="#ffe0e0" stroke-width="0.1">9</text>
<text x="1163.5" y="601.25" font-size="21.5" font-style="italic" stroke="#000">T<tspan font-size="14.8" dy="4.8" dx="-0.8">RPL23</tspan></text>
<text x="0" y="660.8" font-size="25" font-weight="bold" text-anchor="start" fill="#000" stroke="#000" >(c)</text>
<text x="193.5" y="667.5" font-size="21.5" text-anchor="middle" fill="#000" stroke="#000" >CL</text>
<text x="501.5" y="667.5" font-size="21.5" text-anchor="middle" fill="#000" stroke="#000" >CM</text>
<line x1="110.7" y1="676" x2="278.2" y2="676" stroke="#000" stroke-width="2.6" />
<line x1="286" y1="676" x2="717.4" y2="676" stroke="#000" stroke-width="2.6" />
<text x="52" y="703.5" font-size="21.5" text-anchor="start" fill="#000" stroke="#000" >[kDa]</text>
<text x="150.7" y="703.5" font-size="21.5" text-anchor="middle" fill="#000" stroke="#000" >WT</text>
<text x="238.7" y="703.5" font-size="21.5" text-anchor="middle" fill="#000" stroke="#000" >WT-S</text>
<text x="327.4" y="703.5" font-size="21.5" text-anchor="middle" fill="#000" stroke="#000" >WT</text>
<text x="413.8" y="703.5" font-size="21.5" text-anchor="middle" fill="#000" stroke="#000" >cCA-S</text>
<text x="505.1" y="703.5" font-size="21.5" text-anchor="middle" fill="#000" stroke="#000" >ARS2-S</text>
<text x="591.2" y="703.5" font-size="21.5" text-anchor="middle" fill="#000" stroke="#000" >GLE-S</text>
<text x="691.3" y="703.5" font-size="21.5" text-anchor="middle" fill="#000" stroke="#000" >S-GSAS/PP</text>
<text x="88.5" y="734.7" font-size="21.5" text-anchor="end" fill="#000" stroke="#000" >250</text>
<line x1="91.6" y1="727" x2="104.5" y2="727" stroke="#000" stroke-width="2.2" />
<text x="88.5" y="811.2" font-size="21.5" text-anchor="end" fill="#000" stroke="#000" >130</text>
<line x1="91.6" y1="803.5" x2="104.5" y2="803.5" stroke="#000" stroke-width="2.2" />
<text x="88.5" y="882.7" font-size="21.5" text-anchor="end" fill="#000" stroke="#000" >100</text>
<line x1="91.6" y1="875" x2="104.5" y2="875" stroke="#000" stroke-width="2.2" />
<text x="88.5" y="940.2" font-size="21.5" text-anchor="end" fill="#000" stroke="#000" >70</text>
<line x1="91.6" y1="932.5" x2="104.5" y2="932.5" stroke="#000" stroke-width="2.2" />
<g id="blot0"><clipPath id="clip0"><rect x="108.4" y="714.5" width="83.1" height="281.0"/></clipPath><g clip-path="url(#clip0)"><rect x="108.4" y="714.5" width="83.1" height="281.0" fill="url(#g0)"/><ellipse cx="192" cy="1000" rx="20" ry="35" fill="#8c8c8c" opacity="0.75" filter="url(#b8)"/><ellipse cx="150" cy="985" rx="50" ry="25" fill="#c4c4c4" opacity="0.5" filter="url(#b12)"/><rect x="112.0" y="809.5" width="76" height="3" rx="1.5" fill="#bcbcbc" opacity="0.9" filter="url(#b1)"/><ellipse cx="119" cy="810.5" rx="5" ry="2.5" fill="#b0b0b0" opacity="1" filter="url(#b2)"/><ellipse cx="181" cy="809.5" rx="5" ry="2.5" fill="#b4b4b4" opacity="1" filter="url(#b2)"/></g><rect x="108.4" y="714.5" width="83.1" height="281.0" fill="none" stroke="#111" stroke-width="1.6"/></g>
<g id="blot1"><clipPath id="clip1"><rect x="196.6" y="714.5" width="83.1" height="281.0"/></clipPath><g clip-path="url(#clip1)"><rect x="196.6" y="714.5" width="83.1" height="281.0" fill="url(#g1)"/><ellipse cx="266" cy="855" rx="16" ry="48" fill="#c2c2c2" opacity="0.9" filter="url(#b8)"/><ellipse cx="240" cy="850" rx="30" ry="40" fill="#e2e2e2" opacity="0.7" filter="url(#b12)"/><rect x="203.0" y="780.0" width="74" height="6" rx="3.0" fill="#b8b8b8" opacity="0.9" filter="url(#b2)"/><ellipse cx="268" cy="782" rx="10" ry="4" fill="#a4a4a4" opacity="1" filter="url(#b2)"/><rect x="203.0" y="806.25" width="74" height="3.5" rx="1.75" fill="#9c9c9c" opacity="0.95" filter="url(#b1)"/><ellipse cx="268" cy="808" rx="9" ry="2.5" fill="#808080" opacity="1" filter="url(#b1)"/></g><rect x="196.6" y="714.5" width="83.1" height="281.0" fill="none" stroke="#111" stroke-width="1.6"/></g>
<g id="blot2"><clipPath id="clip2"><rect x="285" y="714.5" width="83.19999999999999" height="281.0"/></clipPath><g clip-path="url(#clip2)"><rect x="285" y="714.5" width="83.19999999999999" height="281.0" fill="url(#g2)"/><ellipse cx="310" cy="780" rx="30" ry="60" fill="#cfcfcf" opacity="0.6" filter="url(#b12)"/></g><rect x="285" y="714.5" width="83.19999999999999" height="281.0" fill="none" stroke="#111" stroke-width="1.6"/></g>
<g id="blot3"><clipPath id="clip3"><rect x="373" y="714.5" width="83.69999999999999" height="281.0"/></clipPath><g clip-path="url(#clip3)"><rect x="373" y="714.5" width="83.69999999999999" height="281.0" fill="url(#g3)"/><rect x="391" y="726" width="52" height="192" rx="3" fill="url(#p3)" filter="url(#b4)"/><rect x="392.5" y="750.0" width="7" height="70" rx="3.5" fill="#b0b0b0" opacity="0.8" filter="url(#b3)"/><rect x="433.5" y="750.0" width="7" height="70" rx="3.5" fill="#b8b8b8" opacity="0.7" filter="url(#b3)"/></g><rect x="373" y="714.5" width="83.69999999999999" height="281.0" fill="none" stroke="#111" stroke-width="1.6"/></g>
<g id="blot4"><clipPath id="clip4"><rect x="461" y="714.5" width="83.29999999999995" height="281.0"/></clipPath><g clip-path="url(#clip4)"><rect x="461" y="714.5" width="83.29999999999995" height="281.0" fill="url(#g4)"/><rect x="491" y="724" width="33" height="188" rx="3" fill="url(#p4)" filter="url(#b2)"/></g><rect x="461" y="714.5" width="83.29999999999995" height="281.0" fill="none" stroke="#111" stroke-width="1.6"/></g>
<g id="blot5"><clipPath id="clip5"><rect x="549" y="714.5" width="83.79999999999995" height="281.0"/></clipPath><g clip-path="url(#clip5)"><rect x="549" y="714.5" width="83.79999999999995" height="281.0" fill="url(#g5)"/><rect x="573.0" y="819.0" width="36" height="15" rx="7.5" fill="#c6c6c6" opacity="1" filter="url(#b4)"/><rect x="573.0" y="871.5" width="36" height="15" rx="7.5" fill="#c9c9c9" opacity="1" filter="url(#b4)"/></g><rect x="549" y="714.5" width="83.79999999999995" height="281.0" fill="none" stroke="#111" stroke-width="1.6"/></g>
<g id="blot6"><clipPath id="clip6"><rect x="637.2" y="714.5" width="83.79999999999995" height="281.0"/></clipPath><g clip-path="url(#clip6)"><rect x="637.2" y="714.5" width="83.79999999999995" height="281.0" fill="url(#g6)"/><rect x="666.5" y="737.6" width="33" height="10" rx="5.0" fill="#000" opacity="1" filter="url(#b1)"/><rect x="664.0" y="822.5" width="32" height="10" rx="5.0" fill="#d4d4d4" opacity="1" filter="url(#b3)"/></g><rect x="637.2" y="714.5" width="83.79999999999995" height="281.0" fill="none" stroke="#111" stroke-width="1.6"/></g>
<g transform="translate(734 843.5) rotate(90)"><text x="0" y="0" font-size="21.5" stroke="#000" text-anchor="middle" dominant-baseline="central">αHA</text></g>
<path d="M194 809.5 V803.2 M194 809.5 L187.5 807.3 M194 809.5 L200.5 807.3 M194 809.5 L189.8 815 M194 809.5 L198.2 815" stroke="#000" stroke-width="2.6" stroke-linecap="butt"/>
<text x="759" y="669.8" font-size="25" font-weight="bold" text-anchor="start" fill="#000" stroke="#000" >(d)</text>
<text x="925" y="667.5" font-size="21.5" text-anchor="middle" fill="#000" stroke="#000" >CM</text>
<text x="1135.5" y="667.5" font-size="21.5" text-anchor="middle" fill="#000" stroke="#000" >mCherry-6xHis-1xHA [ng]</text>
<line x1="830.7" y1="675.5" x2="1003.4" y2="675.5" stroke="#000" stroke-width="2.6" />
<line x1="1015" y1="675.5" x2="1249" y2="675.5" stroke="#000" stroke-width="2.6" />
<text x="769" y="703.5" font-size="21.5" text-anchor="start" fill="#000" stroke="#000" >[kDa]</text>
<text x="852.5" y="703.5" font-size="21.5" text-anchor="middle" fill="#000" stroke="#000" >WT</text>
<text x="945" y="703.5" font-size="21.5" text-anchor="middle" fill="#000" stroke="#000" >S-GSAS/PP</text>
<text x="1033.3" y="703.5" font-size="21.5" text-anchor="middle" fill="#000" stroke="#000" >5</text>
<text x="1079.2" y="703.5" font-size="21.5" text-anchor="middle" fill="#000" stroke="#000" >10</text>
<text x="1128.8" y="703.5" font-size="21.5" text-anchor="middle" fill="#000" stroke="#000" >15</text>
<text x="1177" y="703.5" font-size="21.5" text-anchor="middle" fill="#000" stroke="#000" >20</text>
<text x="1226.4" y="703.5" font-size="21.5" text-anchor="middle" fill="#000" stroke="#000" >25</text>
<text x="805.5" y="740.2" font-size="21.5" text-anchor="end" fill="#000" stroke="#000" >250</text>
<line x1="810" y1="732.5" x2="822.5" y2="732.5" stroke="#000" stroke-width="2.2" />
<text x="805.5" y="780.7" font-size="21.5" text-anchor="end" fill="#000" stroke="#000" >130</text>
<line x1="810" y1="773" x2="822.5" y2="773" stroke="#000" stroke-width="2.2" />
<text x="805.5" y="818.2" font-size="21.5" text-anchor="end" fill="#000" stroke="#000" >100</text>
<line x1="810" y1="810.5" x2="822.5" y2="810.5" stroke="#000" stroke-width="2.2" />
<text x="805.5" y="849.7" font-size="21.5" text-anchor="end" fill="#000" stroke="#000" >70</text>
<line x1="810" y1="842" x2="822.5" y2="842" stroke="#000" stroke-width="2.2" />
<text x="805.5" y="890.7" font-size="21.5" text-anchor="end" fill="#000" stroke="#000" >55</text>
<line x1="810" y1="883" x2="822.5" y2="883" stroke="#000" stroke-width="2.2" />
<text x="805.5" y="963.7" font-size="21.5" text-anchor="end" fill="#000" stroke="#000" >35</text>
<line x1="810" y1="956" x2="822.5" y2="956" stroke="#000" stroke-width="2.2" />
<text x="805.5" y="988.7" font-size="21.5" text-anchor="end" fill="#000" stroke="#000" >25</text>
<line x1="810" y1="981" x2="822.5" y2="981" stroke="#000" stroke-width="2.2" />
<g id="blotd"><rect x="826.2" y="715.4" width="427.4" height="280.4" fill="#fff" stroke="#111" stroke-width="1.6"/><rect x="884.8" y="735.1" width="31" height="3.6" rx="1.8" fill="#555" opacity="1" filter="url(#b1)"/><ellipse cx="888" cy="737" rx="5" ry="2.2" fill="#333" opacity="1" filter="url(#b1)"/><ellipse cx="912" cy="736.5" rx="5" ry="2.2" fill="#333" opacity="1" filter="url(#b1)"/><rect x="932.7" y="734.4000000000001" width="29" height="3.6" rx="1.8" fill="#444" opacity="1" filter="url(#b1)"/><ellipse cx="937" cy="736.2" rx="5" ry="2.2" fill="#333" opacity="1" filter="url(#b1)"/><ellipse cx="957" cy="736.4" rx="5" ry="2.2" fill="#333" opacity="1" filter="url(#b1)"/><rect x="977.0" y="734.7" width="29" height="4" rx="2.0" fill="#444" opacity="1" filter="url(#b1)"/><ellipse cx="981" cy="736.7" rx="5" ry="2.5" fill="#222" opacity="1" filter="url(#b1)"/><ellipse cx="1001" cy="737" rx="5" ry="2.5" fill="#111" opacity="1" filter="url(#b1)"/><rect x="1013.5" y="956.7" width="31" height="2.6" rx="1.3" fill="#8a8a8a" opacity="1" filter="url(#b1)"/><rect x="1062.0" y="958.55" width="32" height="5.5" rx="2.75" fill="#3a3a3a" opacity="1" filter="url(#b1)"/><ellipse cx="1087" cy="961.3" rx="7" ry="3" fill="#111" opacity="1" filter="url(#b1)"/><ellipse cx="1068" cy="961" rx="5" ry="2.5" fill="#333" opacity="1" filter="url(#b1)"/><rect x="1109.5" y="959.75" width="35" height="8.5" rx="4.25" fill="#000" opacity="1" filter="url(#b1)"/><rect x="1159.0" y="960.8" width="38" height="8" rx="4.0" fill="#000" opacity="1" filter="url(#b1)"/><rect x="1207.75" y="959.5" width="35.5" height="9" rx="4.5" fill="#000" opacity="1" filter="url(#b1)"/></g>
<g transform="translate(1266.5 844) rotate(90)"><text x="0" y="0" font-size="21.5" stroke="#000" text-anchor="middle" dominant-baseline="central">αHA</text></g>
<polygon points="383.26,20.00 383.26,16.74 387.93,16.74 387.93,20.00" fill="#fff" shape-rendering="crispEdges"/>
<polygon points="389.83,20.00 389.83,16.74 394.33,16.74 394.33,20.00" fill="#fff" shape-rendering="crispEdges"/>
<polygon points="387.93,18.80 387.93,16.07 389.83,16.07 389.83,18.80" fill="#000" stroke="#000" stroke-width="0.3"/>
<polygon points="741.07,58.50 741.07,55.24 745.73,55.24 745.73,58.50" fill="#fff" shape-rendering="crispEdges"/>
<polygon points="747.63,58.50 747.63,55.24 752.14,55.24 752.14,58.50" fill="#fff" shape-rendering="crispEdges"/>
<polygon points="745.73,57.30 745.73,54.57 747.63,54.57 747.63,57.30" fill="#000" stroke="#000" stroke-width="0.3"/>
<polygon points="163.24,87.80 163.24,84.54 167.91,84.54 167.91,87.80" fill="#fff" shape-rendering="crispEdges"/>
<polygon points="169.81,87.80 169.81,84.54 174.31,84.54 174.31,87.80" fill="#fff" shape-rendering="crispEdges"/>
<polygon points="167.91,86.60 167.91,83.87 169.81,83.87 169.81,86.60" fill="#000" stroke="#000" stroke-width="0.3"/>
<polygon points="255.94,87.80 255.94,84.54 260.61,84.54 260.61,87.80" fill="#fff" shape-rendering="crispEdges"/>
<polygon points="262.51,87.80 262.51,84.54 267.01,84.54 267.01,87.80" fill="#fff" shape-rendering="crispEdges"/>
<polygon points="260.61,86.60 260.61,83.87 262.51,83.87 262.51,86.60" fill="#000" stroke="#000" stroke-width="0.3"/>
<polygon points="375.14,87.80 375.14,84.54 379.81,84.54 379.81,87.80" fill="#fff" shape-rendering="crispEdges"/>
<polygon points="381.71,87.80 381.71,84.54 386.21,84.54 386.21,87.80" fill="#fff" shape-rendering="crispEdges"/>
<polygon points="379.81,86.60 379.81,83.87 381.71,83.87 381.71,86.60" fill="#000" stroke="#000" stroke-width="0.3"/>
<polygon points="488.34,87.80 488.34,84.54 493.01,84.54 493.01,87.80" fill="#fff" shape-rendering="crispEdges"/>
<polygon points="494.91,87.80 494.91,84.54 499.41,84.54 499.41,87.80" fill="#fff" shape-rendering="crispEdges"/>
<polygon points="493.01,86.60 493.01,83.87 494.91,83.87 494.91,86.60" fill="#000" stroke="#000" stroke-width="0.3"/>
<polygon points="597.74,87.80 597.74,84.54 602.41,84.54 602.41,87.80" fill="#fff" shape-rendering="crispEdges"/>
<polygon points="604.31,87.80 604.31,84.54 608.81,84.54 608.81,87.80" fill="#fff" shape-rendering="crispEdges"/>
<polygon points="602.41,86.60 602.41,83.87 604.31,83.87 604.31,86.60" fill="#000" stroke="#000" stroke-width="0.3"/>
<polygon points="807.74,87.80 807.74,84.54 812.41,84.54 812.41,87.80" fill="#fff" shape-rendering="crispEdges"/>
<polygon points="814.31,87.80 814.31,84.54 818.81,84.54 818.81,87.80" fill="#fff" shape-rendering="crispEdges"/>
<polygon points="812.41,86.60 812.41,83.87 814.31,83.87 814.31,86.60" fill="#000" stroke="#000" stroke-width="0.3"/>
<polygon points="208.75,346.25 208.75,342.99 213.42,342.99 213.42,346.25" fill="#7f56a8" shape-rendering="crispEdges"/>
<polygon points="215.32,346.25 215.32,342.99 219.82,342.99 219.82,346.25" fill="#7f56a8" shape-rendering="crispEdges"/>
<polygon points="213.42,345.05 213.42,342.32 215.32,342.32 215.32,345.05" fill="#efe6ff" stroke="#efe6ff" stroke-width="0.1"/>
<polygon points="1235.57,346.25 1235.57,342.99 1240.24,342.99 1240.24,346.25" fill="#833c1b" shape-rendering="crispEdges"/>
<polygon points="1242.14,346.25 1242.14,342.99 1246.64,342.99 1246.64,346.25" fill="#833c1b" shape-rendering="crispEdges"/>
<polygon points="1240.24,345.05 1240.24,342.32 1242.14,342.32 1242.14,345.05" fill="#fbe8dc" stroke="#fbe8dc" stroke-width="0.1"/>
<polygon points="1245.93,346.25 1245.93,342.99 1250.60,342.99 1250.60,346.25" fill="#833c1b" shape-rendering="crispEdges"/>
<polygon points="1252.50,346.25 1252.50,342.99 1257.00,342.99 1257.00,346.25" fill="#833c1b" shape-rendering="crispEdges"/>
<polygon points="1250.60,345.05 1250.60,342.32 1252.50,342.32 1252.50,345.05" fill="#fbe8dc" stroke="#fbe8dc" stroke-width="0.1"/>
<polygon points="962.67,346.05 963.14,341.97 967.70,341.97 967.21,346.05" fill="#fff" shape-rendering="crispEdges"/>
<polygon points="970.16,346.05 970.65,341.97 974.94,341.97 974.46,346.05" fill="#fff" shape-rendering="crispEdges"/>
<polygon points="967.24,344.85 967.77,342.10 970.72,342.10 970.18,344.85" fill="#000" stroke="#000" stroke-width="0.3"/>
<polygon points="208.75,409.75 208.75,406.49 213.42,406.49 213.42,409.75" fill="#7f56a8" shape-rendering="crispEdges"/>
<polygon points="215.32,409.75 215.32,406.49 219.82,406.49 219.82,409.75" fill="#7f56a8" shape-rendering="crispEdges"/>
<polygon points="213.42,408.55 213.42,405.82 215.32,405.82 215.32,408.55" fill="#efe6ff" stroke="#efe6ff" stroke-width="0.1"/>
<polygon points="1235.57,409.75 1235.57,406.49 1240.24,406.49 1240.24,409.75" fill="#833c1b" shape-rendering="crispEdges"/>
<polygon points="1242.14,409.75 1242.14,406.49 1246.64,406.49 1246.64,409.75" fill="#833c1b" shape-rendering="crispEdges"/>
<polygon points="1240.24,408.55 1240.24,405.82 1242.14,405.82 1242.14,408.55" fill="#fbe8dc" stroke="#fbe8dc" stroke-width="0.1"/>
<polygon points="1245.93,409.75 1245.93,406.49 1250.60,406.49 1250.60,409.75" fill="#833c1b" shape-rendering="crispEdges"/>
<polygon points="1252.50,409.75 1252.50,406.49 1257.00,406.49 1257.00,409.75" fill="#833c1b" shape-rendering="crispEdges"/>
<polygon points="1250.60,408.55 1250.60,405.82 1252.50,405.82 1252.50,408.55" fill="#fbe8dc" stroke="#fbe8dc" stroke-width="0.1"/>
<polygon points="208.75,473.75 208.75,470.49 213.42,470.49 213.42,473.75" fill="#7f56a8" shape-rendering="crispEdges"/>
<polygon points="215.32,473.75 215.32,470.49 219.82,470.49 219.82,473.75" fill="#7f56a8" shape-rendering="crispEdges"/>
<polygon points="213.42,472.55 213.42,469.82 215.32,469.82 215.32,472.55" fill="#efe6ff" stroke="#efe6ff" stroke-width="0.1"/>
<polygon points="1235.57,473.75 1235.57,470.49 1240.24,470.49 1240.24,473.75" fill="#833c1b" shape-rendering="crispEdges"/>
<polygon points="1242.14,473.75 1242.14,470.49 1246.64,470.49 1246.64,473.75" fill="#833c1b" shape-rendering="crispEdges"/>
<polygon points="1240.24,472.55 1240.24,469.82 1242.14,469.82 1242.14,472.55" fill="#fbe8dc" stroke="#fbe8dc" stroke-width="0.1"/>
<polygon points="1245.93,473.75 1245.93,470.49 1250.60,470.49 1250.60,473.75" fill="#833c1b" shape-rendering="crispEdges"/>
<polygon points="1252.50,473.75 1252.50,470.49 1257.00,470.49 1257.00,473.75" fill="#833c1b" shape-rendering="crispEdges"/>
<polygon points="1250.60,472.55 1250.60,469.82 1252.50,469.82 1252.50,472.55" fill="#fbe8dc" stroke="#fbe8dc" stroke-width="0.1"/>
<polygon points="208.75,538.25 208.75,534.99 213.42,534.99 213.42,538.25" fill="#7f56a8" shape-rendering="crispEdges"/>
<polygon points="215.32,538.25 215.32,534.99 219.82,534.99 219.82,538.25" fill="#7f56a8" shape-rendering="crispEdges"/>
<polygon points="213.42,537.05 213.42,534.32 215.32,534.32 215.32,537.05" fill="#efe6ff" stroke="#efe6ff" stroke-width="0.1"/>
<polygon points="1235.57,538.25 1235.57,534.99 1240.24,534.99 1240.24,538.25" fill="#833c1b" shape-rendering="crispEdges"/>
<polygon points="1242.14,538.25 1242.14,534.99 1246.64,534.99 1246.64,538.25" fill="#833c1b" shape-rendering="crispEdges"/>
<polygon points="1240.24,537.05 1240.24,534.32 1242.14,534.32 1242.14,537.05" fill="#fbe8dc" stroke="#fbe8dc" stroke-width="0.1"/>
<polygon points="1245.93,538.25 1245.93,534.99 1250.60,534.99 1250.60,538.25" fill="#833c1b" shape-rendering="crispEdges"/>
<polygon points="1252.50,538.25 1252.50,534.99 1257.00,534.99 1257.00,538.25" fill="#833c1b" shape-rendering="crispEdges"/>
<polygon points="1250.60,537.05 1250.60,534.32 1252.50,534.32 1252.50,537.05" fill="#fbe8dc" stroke="#fbe8dc" stroke-width="0.1"/>
<polygon points="208.75,602.75 208.75,599.49 213.42,599.49 213.42,602.75" fill="#7f56a8" shape-rendering="crispEdges"/>
<polygon points="215.32,602.75 215.32,599.49 219.82,599.49 219.82,602.75" fill="#7f56a8" shape-rendering="crispEdges"/>
<polygon points="213.42,601.55 213.42,598.82 215.32,598.82 215.32,601.55" fill="#efe6ff" stroke="#efe6ff" stroke-width="0.1"/>
<polygon points="1235.57,602.75 1235.57,599.49 1240.24,599.49 1240.24,602.75" fill="#833c1b" shape-rendering="crispEdges"/>
<polygon points="1242.14,602.75 1242.14,599.49 1246.64,599.49 1246.64,602.75" fill="#833c1b" shape-rendering="crispEdges"/>
<polygon points="1240.24,601.55 1240.24,598.82 1242.14,598.82 1242.14,601.55" fill="#fbe8dc" stroke="#fbe8dc" stroke-width="0.1"/>
<polygon points="1245.93,602.75 1245.93,599.49 1250.60,599.49 1250.60,602.75" fill="#833c1b" shape-rendering="crispEdges"/>
<polygon points="1252.50,602.75 1252.50,599.49 1257.00,599.49 1257.00,602.75" fill="#833c1b" shape-rendering="crispEdges"/>
<polygon points="1250.60,601.55 1250.60,598.82 1252.50,598.82 1252.50,601.55" fill="#fbe8dc" stroke="#fbe8dc" stroke-width="0.1"/>
<polygon points="993.94,602.55 994.41,598.47 998.98,598.47 998.48,602.55" fill="#fff" shape-rendering="crispEdges"/>
<polygon points="1001.43,602.55 1001.93,598.47 1006.22,598.47 1005.74,602.55" fill="#fff" shape-rendering="crispEdges"/>
<polygon points="998.52,601.35 999.04,598.60 1001.99,598.60 1001.45,601.35" fill="#000" stroke="#000" stroke-width="0.3"/>
<polygon points="53.36,812.40 53.36,809.14 58.03,809.14 58.03,812.40" fill="#fff" shape-rendering="crispEdges"/>
<polygon points="59.93,812.40 59.93,809.14 64.43,809.14 64.43,812.40" fill="#fff" shape-rendering="crispEdges"/>
<polygon points="58.03,811.20 58.03,808.47 59.93,808.47 59.93,811.20" fill="#000" stroke="#000" stroke-width="0.3"/>
<polygon points="53.36,883.90 53.36,880.64 58.03,880.64 58.03,883.90" fill="#fff" shape-rendering="crispEdges"/>
<polygon points="59.93,883.90 59.93,880.64 64.43,880.64 64.43,883.90" fill="#fff" shape-rendering="crispEdges"/>
<polygon points="58.03,882.70 58.03,879.97 59.93,879.97 59.93,882.70" fill="#000" stroke="#000" stroke-width="0.3"/>
<polygon points="1164.87,668.70 1164.87,665.44 1169.54,665.44 1169.54,668.70" fill="#fff" shape-rendering="crispEdges"/>
<polygon points="1171.44,668.70 1171.44,665.44 1175.94,665.44 1175.94,668.70" fill="#fff" shape-rendering="crispEdges"/>
<polygon points="1169.54,667.50 1169.54,664.77 1171.44,664.77 1171.44,667.50" fill="#000" stroke="#000" stroke-width="0.3"/>
<polygon points="1067.98,704.70 1067.98,701.44 1072.65,701.44 1072.65,704.70" fill="#fff" shape-rendering="crispEdges"/>
<polygon points="1074.55,704.70 1074.55,701.44 1079.05,701.44 1079.05,704.70" fill="#fff" shape-rendering="crispEdges"/>
<polygon points="1072.65,703.50 1072.65,700.77 1074.55,700.77 1074.55,703.50" fill="#000" stroke="#000" stroke-width="0.3"/>
<polygon points="1117.58,704.70 1117.58,701.44 1122.25,701.44 1122.25,704.70" fill="#fff" shape-rendering="crispEdges"/>
<polygon points="1124.15,704.70 1124.15,701.44 1128.65,701.44 1128.65,704.70" fill="#fff" shape-rendering="crispEdges"/>
<polygon points="1122.25,703.50 1122.25,700.77 1124.15,700.77 1124.15,703.50" fill="#000" stroke="#000" stroke-width="0.3"/>
<polygon points="770.36,781.90 770.36,778.64 775.03,778.64 775.03,781.90" fill="#fff" shape-rendering="crispEdges"/>
<polygon points="776.93,781.90 776.93,778.64 781.43,778.64 781.43,781.90" fill="#fff" shape-rendering="crispEdges"/>
<polygon points="775.03,780.70 775.03,777.97 776.93,777.97 776.93,780.70" fill="#000" stroke="#000" stroke-width="0.3"/>
<polygon points="770.36,819.40 770.36,816.14 775.03,816.14 775.03,819.40" fill="#fff" shape-rendering="crispEdges"/>
<polygon points="776.93,819.40 776.93,816.14 781.43,816.14 781.43,819.40" fill="#fff" shape-rendering="crispEdges"/>
<polygon points="775.03,818.20 775.03,815.47 776.93,815.47 776.93,818.20" fill="#000" stroke="#000" stroke-width="0.3"/>
</svg>
</body></html>
